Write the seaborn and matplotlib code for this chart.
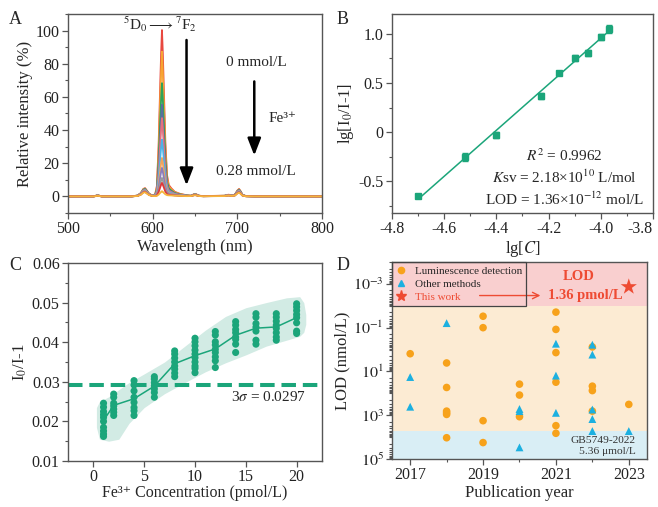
import numpy as np
import pandas as pd
import seaborn as sns
import matplotlib
matplotlib.use("Agg")
import matplotlib.pyplot as plt
from matplotlib.lines import Line2D
from matplotlib.ticker import MultipleLocator, FixedLocator, LogLocator, NullFormatter, FuncFormatter

# ---------------- data ----------------
# A: emission spectra (shape of 611 nm peak + minor bands), one curve per Fe3+ level
wavelength = [500, 530, 533, 535, 537, 540, 575, 582, 586, 589, 591, 593, 596, 600,
              603, 605, 607, 609, 610, 611, 612, 613, 615, 617, 619, 622, 626, 632,
              640, 645, 648, 650, 652, 655, 660, 670, 685, 688, 690, 693, 697, 700,
              702, 704, 706, 710, 720, 800]
main_shape = [0, 0, 0, 0, 0, 0, 0, 0, 0, 0, 0, 0, 0, 0,
              0.01, 0.06, 0.30, 0.68, 0.86, 1.0, 0.86, 0.68, 0.32, 0.12, 0.06, 0.04, 0.02, 0.01,
              0.004, 0, 0, 0, 0, 0, 0, 0, 0, 0, 0, 0, 0, 0,
              0, 0, 0, 0, 0, 0]
minor_shape = [0, 0, 0.4, 0.8, 0.4, 0.05, 0.05, 0.5, 2.0, 4.5, 5.0, 3.6, 1.5, 0.5,
               0.3, 0.3, 0.3, 0.3, 0.3, 0.3, 0.3, 0.4, 0.6, 0.8, 0.9, 0.9, 0.8, 0.6,
               0.3, 0.4, 1.1, 1.5, 1.1, 0.4, 0.2, 0.3, 0.4, 0.9, 1.0, 0.6, 1.0, 3.5,
               4.5, 3.0, 1.0, 0.2, 0.05, 0]
peak_heights = [100, 87, 68, 55, 47, 34, 23, 17, 11, 8, 3]
minor_scales = [1.0, 0.95, 0.9, 0.85, 0.8, 0.75, 0.7, 0.65, 0.6, 0.55, 0.5]
spec_colors = ['#E8483F', '#F7A531', '#2EA35A', '#5B6E9E', '#E5707E', '#4DB3E6',
               '#F3A35B', '#8B7DBB', '#9A9A9A', '#E0383A', '#F5B53C']

# B: Stern-Volmer fit
lg_c = [-4.70, -4.52, -4.40, -4.23, -4.16, -4.10, -4.05, -4.00, -3.97]
lg_q = [-0.65, -0.25, -0.03, 0.37, 0.60, 0.75, 0.80, 0.97, 1.05]
lg_err = [0.02, 0.04, 0.03, 0.03, 0.02, 0.03, 0.03, 0.03, 0.04]

# C: repeated measurements at low Fe3+ concentration
conc_levels = [1, 2, 4, 6, 8, 10, 12, 14, 16, 18, 20]
c_values = [
    [0.0246, 0.0236, 0.0225, 0.0217, 0.0210, 0.0200, 0.0185, 0.0176, 0.0168, 0.0162],
    [0.0269, 0.0261, 0.0246, 0.0239, 0.0231, 0.0223, 0.0215],
    [0.0303, 0.0292, 0.0277, 0.0261, 0.0248, 0.0235, 0.0227, 0.0215],
    [0.0313, 0.0307, 0.0298, 0.0290, 0.0282, 0.0273, 0.0261],
    [0.0378, 0.0370, 0.0360, 0.0350, 0.0340, 0.0332, 0.0322, 0.0313],
    [0.0410, 0.0401, 0.0391, 0.0380, 0.0370, 0.0361, 0.0350, 0.0340, 0.0334, 0.0323],
    [0.0427, 0.0418, 0.0401, 0.0393, 0.0382, 0.0374, 0.0363, 0.0353, 0.0336],
    [0.0452, 0.0443, 0.0432, 0.0424, 0.0413, 0.0407, 0.0395, 0.0374],
    [0.0472, 0.0463, 0.0447, 0.0438, 0.0428, 0.0405, 0.0395],
    [0.0472, 0.0463, 0.0453, 0.0443, 0.0435, 0.0424, 0.0413, 0.0405],
    [0.0497, 0.0489, 0.0480, 0.0470, 0.0462, 0.0449, 0.0428, 0.0422],
]
band_x = [0.3, 0.6, 1.5, 2.5, 3.5, 5, 7, 9, 11, 13, 15, 17, 19, 20.3, 20.7, 20.9]
band_hi = [0.0235, 0.0250, 0.0262, 0.0280, 0.0298, 0.0320, 0.0350, 0.0390, 0.0430,
           0.0465, 0.0487, 0.0500, 0.0512, 0.0515, 0.0500, 0.0470]
band_lo = [0.0185, 0.0155, 0.0150, 0.0155, 0.0195, 0.0235, 0.0270, 0.0298, 0.0325,
           0.0348, 0.0368, 0.0390, 0.0405, 0.0415, 0.0425, 0.0445]
three_sigma = 0.0292

# D: literature comparison (nmol/L)
lum_year = [2017, 2018, 2018, 2018, 2018, 2018, 2018, 2019, 2019, 2019, 2019,
            2020, 2020, 2020, 2021, 2021, 2021, 2021, 2021, 2021,
            2022, 2022, 2022, 2022, 2023]
lum_lod = [1.55, 4.1, 54, 650, 775, 920, 10700, 0.030, 0.10, 1780, 17800,
           38, 120, 1170, 0.0195, 0.12, 1.38, 31, 3000, 6700,
           0.76, 47, 75, 650, 320]
oth_year = [2017, 2017, 2018, 2020, 2020, 2020, 2021, 2021, 2021,
            2022, 2022, 2022, 2022, 2022, 2023]
oth_lod = [18, 410, 0.062, 520, 650, 29500, 0.54, 15.5, 780,
           0.60, 1.7, 550, 1500, 5300, 5300]
this_year = [2023]
this_lod = [1.36e-3]

GREEN = '#1BA57A'
ORANGE = '#F7A21B'
BLUE = '#1CB0E0'
RED = '#EE4B33'
SPINE = '#555555'

# ---------------- style ----------------
sns.set_theme(style="ticks")
plt.rcParams['font.family'] = ['Liberation Serif', 'DejaVu Serif']
plt.rcParams['mathtext.fontset'] = 'stix'
plt.rcParams['axes.unicode_minus'] = False
plt.rcParams['font.size'] = 11.5
plt.rcParams['axes.labelsize'] = 12
plt.rcParams['xtick.labelsize'] = 11.5
plt.rcParams['ytick.labelsize'] = 11.5

fig = plt.figure(figsize=(6.58, 5.07), dpi=100)
axA = fig.add_axes([0.1033, 0.5799, 0.3861, 0.3925])
axB = fig.add_axes([0.5957, 0.5799, 0.3967, 0.3925])
axC = fig.add_axes([0.1033, 0.0907, 0.3861, 0.3906])
axD = fig.add_axes([0.5957, 0.0947, 0.3876, 0.3885])

for ax in (axA, axB, axC, axD):
    for s in ax.spines.values():
        s.set_color(SPINE)
        s.set_linewidth(1.0)
    ax.tick_params(which='major', direction='out', length=4, width=0.9, color=SPINE,
                   top=False, right=False, pad=2, labelcolor='#222222')
    ax.tick_params(which='minor', direction='out', length=2.5, width=0.8, color=SPINE,
                   top=False, right=False)

# ---------------- A ----------------
rows = []
for i, (h, m) in enumerate(zip(peak_heights, minor_scales)):
    for w, a, b in zip(wavelength, main_shape, minor_shape):
        rows.append({'wl': w, 'I': h * a + m * b, 'curve': i})
df_spec = pd.DataFrame(rows)
sns.lineplot(data=df_spec, x='wl', y='I', hue='curve', palette=spec_colors,
             sort=False, legend=False, lw=1.3, ax=axA)
axA.set_xlim(500, 800)
axA.set_ylim(-10, 110)
axA.xaxis.set_major_locator(MultipleLocator(100))
axA.xaxis.set_minor_locator(MultipleLocator(50))
axA.yaxis.set_major_locator(MultipleLocator(20))
axA.yaxis.set_minor_locator(MultipleLocator(10))
axA.set_xlabel('Wavelength (nm)', labelpad=1)
axA.set_ylabel('Relative intensity (%)', labelpad=2)
axA.text(608.7, 103.5, r'$^5$D$_0$$\longrightarrow$$^7$F$_2$', ha='center', va='center', fontsize=11)
axA.annotate('', xy=(640, 5), xytext=(640, 96),
             arrowprops=dict(arrowstyle='-|>,head_width=0.35,head_length=0.9', color='black', lw=1.8))
axA.annotate('', xy=(720, 23), xytext=(720, 71),
             arrowprops=dict(arrowstyle='-|>,head_width=0.35,head_length=0.9', color='black', lw=1.8))
axA.text(722, 80.5, '0 mmol/L', ha='center', va='center', fontsize=11)
axA.text(737, 47, 'Fe³⁺', ha='left', va='center', fontsize=11)
axA.text(722, 15, '0.28 mmol/L', ha='center', va='center', fontsize=11)

# ---------------- B ----------------
df_b = pd.DataFrame({'x': lg_c, 'y': lg_q, 'e': lg_err})
sns.regplot(data=df_b, x='x', y='y', ci=None, scatter=False, truncate=True,
            line_kws=dict(color=GREEN, lw=1.1), ax=axB)
axB.errorbar(df_b['x'], df_b['y'], yerr=df_b['e'], fmt='s', ms=4.5, color=GREEN,
             ecolor=GREEN, elinewidth=1, capsize=2.5, capthick=1)
axB.set_xlim(-4.8, -3.8)
axB.set_ylim(-0.82, 1.2)
axB.xaxis.set_major_locator(MultipleLocator(0.2))
axB.xaxis.set_minor_locator(MultipleLocator(0.1))
axB.yaxis.set_major_locator(MultipleLocator(0.5))
axB.yaxis.set_minor_locator(MultipleLocator(0.25))
axB.xaxis.set_major_formatter(FuncFormatter(lambda v, p: f'{v:.1f}'))
axB.yaxis.set_major_formatter(FuncFormatter(lambda v, p: '0' if abs(v) < 1e-9 else f'{v:.1f}'))
axB.set_xlabel(r'lg[$C$]', labelpad=1)
axB.set_ylabel(r'lg[I$_0$/I-1]', labelpad=2)
axB.text(-4.14, -0.237, r'$R^2$ = 0.9962', ha='center', va='center', fontsize=11)
axB.text(-4.14, -0.458, r'$K$sv = 2.18×10$^{10}$ L/mol', ha='center', va='center', fontsize=11)
axB.text(-4.14, -0.685, r'LOD = 1.36×10$^{-12}$ mol/L', ha='center', va='center', fontsize=11)

# ---------------- C ----------------
df_c = pd.DataFrame([(c, v) for c, vals in zip(conc_levels, c_values) for v in vals],
                    columns=['conc', 'val'])
axC.fill_between(band_x, band_lo, band_hi, color='#D2EBE4', lw=0, zorder=0)
sns.lineplot(data=df_c, x='conc', y='val', estimator='mean', errorbar=None,
             color=GREEN, lw=1.1, ax=axC, zorder=2)
sns.scatterplot(data=df_c, x='conc', y='val', color=GREEN, s=26, edgecolor='none',
                ax=axC, zorder=3)
axC.axhline(three_sigma, color=GREEN, lw=2.9, ls=(0, (3.6, 1.7)), zorder=1)
axC.text(17.2, 0.0261, r'3$\sigma$ = 0.0297', ha='center', va='center', fontsize=11)
axC.set_xlim(-2.5, 22.5)
axC.set_ylim(0.01, 0.06)
axC.xaxis.set_major_locator(MultipleLocator(5))
axC.yaxis.set_major_locator(MultipleLocator(0.01))
axC.yaxis.set_minor_locator(MultipleLocator(0.005))
axC.yaxis.set_major_formatter(FuncFormatter(lambda v, p: f'{v:.2f}'))
axC.set_xlabel('Fe³⁺ Concentration (pmol/L)', labelpad=0, fontsize=11.5)
axC.set_ylabel(r'I$_0$/I-1', labelpad=2)

# ---------------- D ----------------
axD.set_yscale('log')
axD.set_xlim(2016.5, 2023.5)
axD.set_ylim(1e5, 1e-4)
axD.axhspan(1e-4, 1e-2, color='#F9CFCF', lw=0, zorder=0)
axD.axhspan(1e-2, 5.36e3, color='#FCEBD3', lw=0, zorder=0)
axD.axhspan(5.36e3, 1e5, color='#D9EEF5', lw=0, zorder=0)
sns.scatterplot(x=lum_year, y=lum_lod, color=ORANGE, marker='o', s=30, edgecolor='none', ax=axD, zorder=3)
sns.scatterplot(x=oth_year, y=oth_lod, color=BLUE, marker='^', s=32, edgecolor='none', ax=axD, zorder=3)
sns.scatterplot(x=this_year, y=this_lod, color=RED, marker='*', s=150, edgecolor='none', ax=axD, zorder=4)
axD.yaxis.set_major_locator(FixedLocator([1e-3, 1e-1, 1e1, 1e3, 1e5]))
axD.yaxis.set_major_formatter(FuncFormatter(lambda v, p: r'$10^{%d}$' % round(np.log10(v))))
axD.yaxis.set_minor_locator(LogLocator(base=10, subs=np.arange(1, 10), numticks=30))
axD.yaxis.set_minor_formatter(NullFormatter())
axD.xaxis.set_major_locator(FixedLocator([2017, 2019, 2021, 2023]))
axD.xaxis.set_minor_locator(FixedLocator([2018, 2020, 2022]))
axD.xaxis.set_major_formatter(FuncFormatter(lambda v, p: f'{int(v)}'))
axD.set_xlabel('Publication year', labelpad=1)
axD.set_ylabel('LOD (nmol/L)', labelpad=2)

handles = [Line2D([], [], ls='', marker='o', color=ORANGE, ms=4.5),
           Line2D([], [], ls='', marker='^', color=BLUE, ms=4.5),
           Line2D([], [], ls='', marker='*', color=RED, ms=8)]
leg = axD.legend(handles, ['Luminescence detection', 'Other methods', 'This work'],
                 loc='upper left', bbox_to_anchor=(0, 1), borderaxespad=0, fontsize=8,
                 frameon=True, fancybox=False, framealpha=1, facecolor='none',
                 edgecolor='#444444', handlelength=1.0, handletextpad=0.7,
                 labelspacing=0.3, borderpad=0.35)
leg.get_frame().set_linewidth(0.9)
leg.get_texts()[2].set_color(RED)
axD.annotate('', xy=(2020.65, 3.4e-3), xytext=(2018.83, 3.4e-3),
             arrowprops=dict(arrowstyle='->', color=RED, lw=1.0))
axD.text(2021.63, 4.7e-4, 'LOD', color=RED, fontsize=10.5, fontweight='bold', ha='center', va='center')
axD.text(2021.8, 3.4e-3, '1.36 pmol/L', color=RED, fontsize=10.5, fontweight='bold', ha='center', va='center')
axD.text(0.955, 0.065, 'GB5749-2022\n5.36 μmol/L', transform=axD.transAxes, ha='right',
         va='center', fontsize=8.2, color='#333333', linespacing=1.35)

# panel letters
for lbl, (x, y) in zip('ABCD', [(15, 20), (343, 20), (15, 265), (343, 265)]):
    fig.text(x / 658, 1 - y / 507, lbl, fontsize=13, ha='center', va='center')

# keep the last tick label of B inside the figure
fig.canvas.draw()
for lab in axB.get_xticklabels():
    if lab.get_text() == '-3.8':
        lab.set_ha('right')

fig.savefig('out.png', dpi=100)
